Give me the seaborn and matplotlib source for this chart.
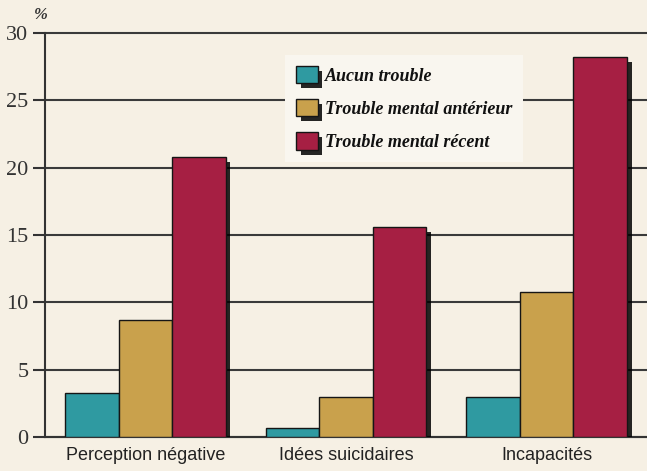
import matplotlib
matplotlib.use("Agg")
import matplotlib.pyplot as plt
import matplotlib.patheffects as pe
import seaborn as sns
import pandas as pd

categories = ["Perception négative", "Idées suicidaires", "Incapacités"]
series = ["Aucun trouble", "Trouble mental antérieur", "Trouble mental récent"]
aucun = [3.3, 0.7, 3.0]
anterieur = [8.7, 3.0, 10.8]
recent = [20.8, 15.6, 28.2]
yticks = [0, 5, 10, 15, 20, 25, 30]
colors = ["#2f9aa1", "#c9a14c", "#a61f43"]

rows = []
for name, vals in zip(series, [aucun, anterieur, recent]):
    for c, v in zip(categories, vals):
        rows.append({"cat": c, "serie": name, "val": v})
df = pd.DataFrame(rows)

sns.set_theme(style="white")
bg = "#f6f0e4"
fig = plt.figure(figsize=(6.47, 4.71), dpi=100, facecolor=bg)
ax = fig.add_axes([45 / 647, 1 - 437 / 471, 1 - 45 / 647, (437 - 33) / 471])
ax.set_facecolor(bg)

sns.barplot(data=df, x="cat", y="val", hue="serie", order=categories,
            hue_order=series, palette=colors, width=0.8, ax=ax,
            edgecolor="#151515", linewidth=1.0, saturation=1, zorder=3)

shadow = [pe.SimplePatchShadow(offset=(3.5, -3.5), shadow_rgbFace="#000000", alpha=0.85),
          pe.Normal()]
for p in ax.patches:
    p.set_path_effects(shadow)

ax.set_xlim(-0.5, 2.5)
ax.set_ylim(0, 30)
ax.set_yticks(yticks)
ax.set_yticklabels([str(t) for t in yticks], family="Liberation Serif", fontsize=16, color="#333333")
ax.set_xticks(range(len(categories)))
ax.set_xticklabels(categories, family=["Liberation Sans", "DejaVu Sans"], fontsize=13, color="#222222")
ax.set_xticks([0.5, 1.5, 2.5], minor=True)
ax.tick_params(axis="x", which="major", length=0, pad=7)
ax.tick_params(axis="x", which="minor", direction="in", length=8, width=1.2, color="#333333")
ax.tick_params(axis="y", which="major", direction="out", length=9, width=1.5, color="#333333", pad=3, left=True)
ax.set_xlabel("")
ax.set_ylabel("")

for s in ["top", "right"]:
    ax.spines[s].set_visible(False)
ax.spines["left"].set_color("#333333")
ax.spines["left"].set_linewidth(1.5)
ax.spines["bottom"].set_color("#333333")
ax.spines["bottom"].set_linewidth(1.5)

ax.yaxis.grid(True, color="#3a3a3a", linewidth=1.5, zorder=0)
ax.set_axisbelow(True)
for ln in ax.get_ygridlines():
    ln.set_clip_on(False)

fig.text(41 / 647, 1 - 15 / 471, "%", family="Liberation Serif", fontweight="bold",
         fontstyle="italic", fontsize=12, color="#333333", ha="center", va="center")

leg = ax.legend(loc="upper left", bbox_to_anchor=((285 - 45) / 602, 1 - (55 - 33) / 404),
                borderaxespad=0,
                frameon=True, facecolor="#f9f6ef", edgecolor="none", framealpha=1.0,
                prop={"family": "Liberation Serif", "weight": "bold",
                      "style": "italic", "size": 13},
                handlelength=1.2, handleheight=1.1, handletextpad=0.4, labelspacing=0.8,
                borderpad=0.6, fancybox=False)
leg.set_zorder(5)
for t in leg.get_texts():
    t.set_color("#111111")

fig.savefig("out.png", dpi=100, facecolor=bg)
